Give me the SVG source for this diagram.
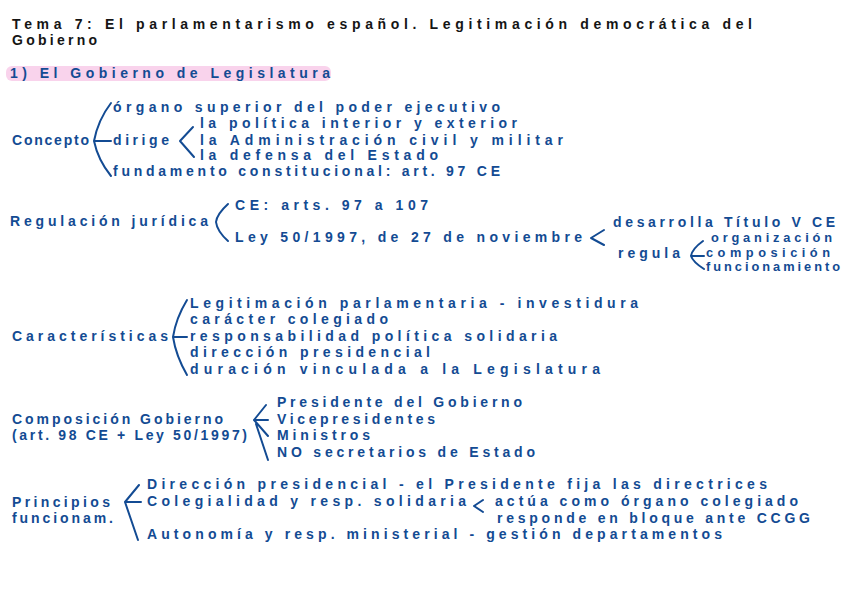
<svg xmlns="http://www.w3.org/2000/svg" width="848" height="599" viewBox="0 0 848 599">
<style>
text{font-family:"Liberation Sans",Arial,sans-serif;font-size:14px;font-weight:700;fill:#134b93}
.t{fill:#151515}
.s{font-size:12.8px}
.b{fill:none;stroke:#134b93;stroke-width:2;stroke-linecap:round;stroke-linejoin:round}
</style>
<rect width="848" height="599" fill="#ffffff"/>
<g id="title">
<text class="t" x="12" y="29" textLength="740" lengthAdjust="spacing">Tema 7: El parlamentarismo español. Legitimación democrática del</text>
<text class="t" x="12" y="45" textLength="85" lengthAdjust="spacing">Gobierno</text>
</g>
<g id="header">
<rect x="6" y="66" width="325" height="15" rx="6" fill="#f9d3ec"/>
<text x="10" y="78" textLength="320" lengthAdjust="spacing">1) El Gobierno de Legislatura</text>
</g>
<g id="connectors">
<path class="b" d="M111,103 Q98,120 94,141 Q98,160 111,176 M95,141 L111,141"/>
<path class="b" d="M193,127 L180,141 L194,157"/>
<path class="b" d="M228,204 Q217,214 216,222 Q217,231 228,241"/>
<path class="b" d="M604,230 L591,238 L604,245"/>
<path class="b" d="M703,241 Q692,249 691,256 Q693,262 704,269 M692,256 L704,256"/>
<path class="b" d="M187,300 Q176,318 173,337 Q176,356 187,375 M174,337 L187,337"/>
<path class="b" d="M266,405 L254,420 L268,420 M254,420 L268,436 M256,424 L268,460"/>
<path class="b" d="M139,485 L125,502 L141,502 M125,502 L138,540"/>
<path class="b" d="M483,500 L474,506 L483,512"/>
</g>
<g id="concepto">
<text x="12" y="145" textLength="77" lengthAdjust="spacing">Concepto</text>
<text x="113" y="112" textLength="387" lengthAdjust="spacing">órgano superior del poder ejecutivo</text>
<text x="113" y="145" textLength="56" lengthAdjust="spacing">dirige</text>
<text x="113" y="176" textLength="387" lengthAdjust="spacing">fundamento constitucional: art. 97 CE</text>
<text x="200" y="128" textLength="317" lengthAdjust="spacing">la política interior y exterior</text>
<text x="200" y="145" textLength="363" lengthAdjust="spacing">la Administración civil y militar</text>
<text x="200" y="160" textLength="238" lengthAdjust="spacing">la defensa del Estado</text>
</g>
<g id="regulacion">
<text x="10" y="226" textLength="198" lengthAdjust="spacing">Regulación jurídica</text>
<text x="235" y="210" textLength="193" lengthAdjust="spacing">CE: arts. 97 a 107</text>
<text x="235" y="242" textLength="347" lengthAdjust="spacing">Ley 50/1997, de 27 de noviembre</text>
<text x="613" y="227" textLength="222" lengthAdjust="spacing">desarrolla Título V CE</text>
<text x="618" y="258" textLength="62" lengthAdjust="spacing">regula</text>
<text class="s" x="711" y="242" textLength="121" lengthAdjust="spacing">organización</text>
<text class="s" x="706" y="256.5" textLength="124" lengthAdjust="spacing">composición</text>
<text class="s" x="706" y="271" textLength="134" lengthAdjust="spacing">funcionamiento</text>
</g>
<g id="caracteristicas">
<text x="12" y="341" textLength="156" lengthAdjust="spacing">Características</text>
<text x="190" y="308" textLength="448" lengthAdjust="spacing">Legitimación parlamentaria - investidura</text>
<text x="190" y="324" textLength="198" lengthAdjust="spacing">carácter colegiado</text>
<text x="190" y="341" textLength="367" lengthAdjust="spacing">responsabilidad política solidaria</text>
<text x="190" y="357" textLength="240" lengthAdjust="spacing">dirección presidencial</text>
<text x="190" y="374" textLength="410" lengthAdjust="spacing">duración vinculada a la Legislatura</text>
</g>
<g id="composicion">
<text x="12" y="424" textLength="211" lengthAdjust="spacing">Composición Gobierno</text>
<text x="12" y="440" textLength="235" lengthAdjust="spacing">(art. 98 CE + Ley 50/1997)</text>
<text x="277" y="407" textLength="245" lengthAdjust="spacing">Presidente del Gobierno</text>
<text x="277" y="424" textLength="158" lengthAdjust="spacing">Vicepresidentes</text>
<text x="277" y="440" textLength="93" lengthAdjust="spacing">Ministros</text>
<text x="277" y="457" textLength="258" lengthAdjust="spacing">NO secretarios de Estado</text>
</g>
<g id="principios">
<text x="12" y="507" textLength="98" lengthAdjust="spacing">Principios</text>
<text x="12" y="523" textLength="101" lengthAdjust="spacing">funcionam.</text>
<text x="147" y="489" textLength="620" lengthAdjust="spacing">Dirección presidencial - el Presidente fija las directrices</text>
<text x="147" y="506" textLength="319" lengthAdjust="spacing">Colegialidad y resp. solidaria</text>
<text x="495" y="506" textLength="303" lengthAdjust="spacing">actúa como órgano colegiado</text>
<text x="497" y="523" textLength="313" lengthAdjust="spacing">responde en bloque ante CCGG</text>
<text x="147" y="539" textLength="575" lengthAdjust="spacing">Autonomía y resp. ministerial - gestión departamentos</text>
</g>
</svg>
